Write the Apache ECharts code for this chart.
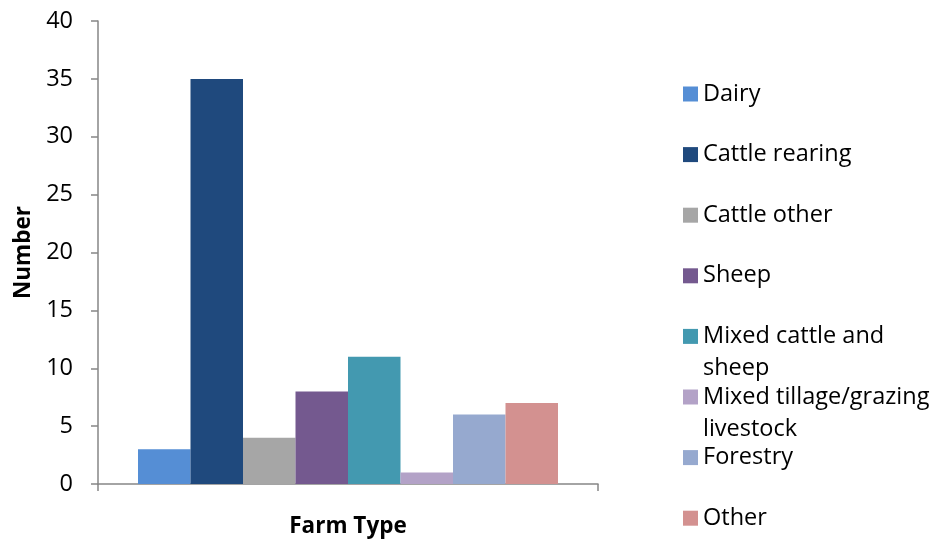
<!DOCTYPE html>
<html><head><meta charset="utf-8">
<script src="https://cdn.jsdelivr.net/npm/echarts@6/dist/echarts.min.js"></script>
<style>html,body{margin:0;padding:0;background:#fff}#c{width:937px;height:540px}</style>
</head><body><div id="c"></div>
<script>
var seriesNames = ['Dairy','Cattle rearing','Cattle other','Sheep','Mixed cattle and sheep','Mixed tillage/grazing livestock','Forestry','Other'];
var seriesValues = [3,35,4,8,11,1,6,7];
var seriesColors = ['#558ED5','#1F497D','#A6A6A6','#74598F','#4399B0','#B3A2C7','#96A9CF','#D39190'];
var legendLabels = {'Mixed cattle and sheep':'Mixed cattle and\nsheep','Mixed tillage/grazing livestock':'Mixed tillage/grazing\nlivestock'};
var yTicks = {min:0,max:40,interval:5};
var FONT = 'Open Sans';
var LEG_TOP = 78, LEG_STEP = 60.6, LINE_H = 32;

function legendText(n){
  var label = legendLabels[n] || n;
  // two-line labels: add an empty leading line so the first line sits beside the icon
  return label.indexOf('\n') >= 0 ? '\n' + label : label;
}

var legends = seriesNames.map(function(n,i){
  var twoLine = legendText(n).indexOf('\n') >= 0;
  return {
    orient:'vertical', left:683, top:LEG_TOP + i*LEG_STEP - (twoLine ? LINE_H : 0), padding:0,
    itemWidth:15, itemHeight:15, icon:'rect',
    textStyle:{fontFamily:FONT,fontSize:23.5,color:'#000',lineHeight:LINE_H},
    formatter:legendText,
    data:[n]
  };
});

var chart = echarts.init(document.getElementById('c'));
chart.setOption({
  animation:false,
  textStyle:{fontFamily:FONT},
  grid:{left:98,right:339,top:21,bottom:56,containLabel:false,outerBoundsMode:'none'},
  legend:legends,
  xAxis:{
    type:'category', data:[''],
    name:'Farm Type', nameLocation:'middle', nameGap:31,
    nameTextStyle:{fontFamily:FONT,fontSize:22.5,fontWeight:'bold',color:'#000'},
    axisLine:{lineStyle:{color:'#868686',width:1.5}},
    axisTick:{show:true,length:7,lineStyle:{color:'#868686',width:1.5}},
    axisLabel:{show:false}
  },
  yAxis:{
    type:'value', min:yTicks.min, max:yTicks.max, interval:yTicks.interval,
    name:'Number', nameLocation:'middle', nameGap:62, nameRotate:90,
    nameTextStyle:{fontFamily:FONT,fontSize:22.5,fontWeight:'bold',color:'#000'},
    axisLine:{show:true,lineStyle:{color:'#868686',width:1.5}},
    axisTick:{show:true,length:7,lineStyle:{color:'#868686',width:1.5}},
    axisLabel:{fontFamily:FONT,fontSize:23.5,color:'#000',margin:25},
    splitLine:{show:false}
  },
  series:seriesNames.map(function(n,i){
    return {name:n,type:'bar',data:[seriesValues[i]],barGap:'0%',barCategoryGap:'16%',
      itemStyle:{color:seriesColors[i]}};
  })
});
</script></body></html>
